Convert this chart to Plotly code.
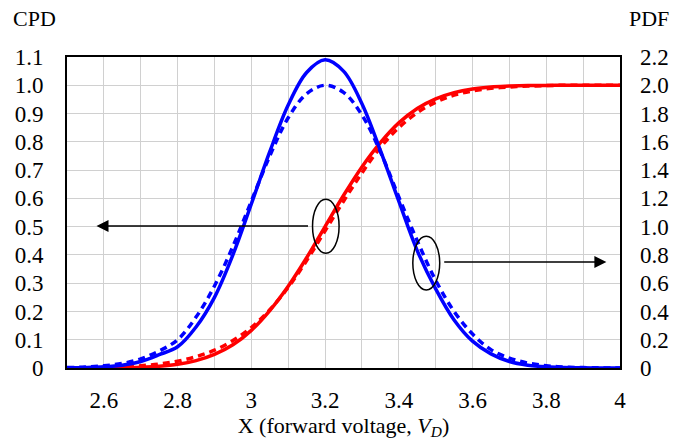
import plotly.graph_objects as go

x_vals = [2.5, 2.55, 2.6, 2.65, 2.7, 2.75, 2.8, 2.85, 2.9, 2.95, 3.0, 3.05, 3.1, 3.15, 3.2,
          3.25, 3.3, 3.35, 3.4, 3.45, 3.5, 3.55, 3.6, 3.65, 3.7, 3.75, 3.8, 3.85, 3.9, 3.95, 4.0]

pdf_solid = [0.001, 0.003, 0.008, 0.02, 0.046, 0.094, 0.15, 0.29, 0.5, 0.8, 1.16, 1.53, 1.86, 2.09, 2.18,
             2.10, 1.87, 1.54, 1.18, 0.83, 0.56, 0.34, 0.19, 0.10, 0.046, 0.02, 0.008, 0.003, 0.001, 0.0, 0.0]
pdf_dashed = [0.003, 0.007, 0.016, 0.032, 0.065, 0.12, 0.2, 0.36, 0.58, 0.86, 1.18, 1.50, 1.77, 1.94, 2.0,
              1.95, 1.79, 1.53, 1.21, 0.9, 0.62, 0.4, 0.24, 0.13, 0.07, 0.035, 0.016, 0.007, 0.003, 0.001, 0.0]
cdf_solid = [0.0001, 0.0001, 0.0004, 0.001, 0.0027, 0.0062, 0.013, 0.026, 0.048, 0.082, 0.133, 0.203, 0.289, 0.39, 0.5,
             0.61, 0.711, 0.797, 0.867, 0.918, 0.952, 0.974, 0.987, 0.994, 0.997, 0.999, 0.9996, 1.0, 1.0, 1.0, 1.0]
cdf_dashed = [0.0005, 0.001, 0.002, 0.004, 0.008, 0.014, 0.024, 0.04, 0.063, 0.097, 0.143, 0.206, 0.285, 0.38, 0.485,
              0.59, 0.69, 0.78, 0.85, 0.903, 0.94, 0.965, 0.98, 0.989, 0.994, 0.997, 0.999, 1.0, 1.0, 1.0, 1.0]

x_ticks = [2.6, 2.8, 3.0, 3.2, 3.4, 3.6, 3.8, 4.0]
x_ticktext = ["2.6", "2.8", "3", "3.2", "3.4", "3.6", "3.8", "4"]
x_minor = [2.5, 2.7, 2.9, 3.1, 3.3, 3.5, 3.7, 3.9]
cpd_ticks = [0, 0.1, 0.2, 0.3, 0.4, 0.5, 0.6, 0.7, 0.8, 0.9, 1.0, 1.1]
cpd_text = ["0", "0.1", "0.2", "0.3", "0.4", "0.5", "0.6", "0.7", "0.8", "0.9", "1.0", "1.1"]
pdf_ticks = [0, 0.2, 0.4, 0.6, 0.8, 1.0, 1.2, 1.4, 1.6, 1.8, 2.0, 2.2]
pdf_text = ["0", "0.2", "0.4", "0.6", "0.8", "1.0", "1.2", "1.4", "1.6", "1.8", "2.0", "2.2"]

FONT = "Liberation Serif"
BLUE = "#0000ff"
RED = "#ff0000"
LW = 3.5
TF = dict(family=FONT, size=23, color="black")

fig = go.Figure()
fig.add_trace(go.Scatter(x=x_vals, y=pdf_dashed, yaxis="y2", mode="lines",
                         line=dict(color=BLUE, width=LW, dash="7px,5px", shape="spline")))
fig.add_trace(go.Scatter(x=x_vals, y=pdf_solid, yaxis="y2", mode="lines",
                         line=dict(color=BLUE, width=LW, shape="spline")))
fig.add_trace(go.Scatter(x=x_vals, y=cdf_dashed, mode="lines",
                         line=dict(color=RED, width=LW, dash="7px,5px", shape="spline")))
fig.add_trace(go.Scatter(x=x_vals, y=cdf_solid, mode="lines",
                         line=dict(color=RED, width=LW, shape="spline")))

# ellipses
fig.add_shape(type="circle", xref="x", yref="y", x0=3.166, x1=3.238, y0=0.406, y1=0.597,
              line=dict(color="black", width=1.5))
fig.add_shape(type="circle", xref="x", yref="y", x0=3.438, x1=3.511, y0=0.276, y1=0.466,
              line=dict(color="black", width=1.5))

# arrows (line with filled head)
fig.add_annotation(x=2.58, y=0.502, ax=3.166, ay=0.502, xref="x", yref="y", axref="x", ayref="y",
                   showarrow=True, arrowhead=2, arrowsize=1.6, arrowwidth=1.5, arrowcolor="black", text=" ")
fig.add_annotation(x=3.963, y=0.375, ax=3.511, ay=0.375, xref="x", yref="y", axref="x", ayref="y",
                   showarrow=True, arrowhead=2, arrowsize=1.6, arrowwidth=1.5, arrowcolor="black", text=" ")

# axis headers
fig.add_annotation(text="CPD", xref="paper", yref="paper", x=-0.058, y=1.0, yshift=39,
                   showarrow=False, font=dict(family=FONT, size=22, color="black"), xanchor="center", yanchor="middle")
fig.add_annotation(text="PDF", xref="paper", yref="paper", x=1.0, xshift=29, y=1.0, yshift=39,
                   showarrow=False, font=dict(family=FONT, size=22, color="black"), xanchor="center", yanchor="middle")

fig.update_layout(
    width=681, height=447,
    margin=dict(l=67, r=53, t=57, b=79),
    paper_bgcolor="white", plot_bgcolor="white",
    showlegend=False,
    font=dict(family=FONT, size=22, color="black"),
    xaxis=dict(range=[2.5, 4.0], tickvals=x_ticks, ticktext=x_ticktext, tickfont=TF,
               showgrid=True, gridcolor="#d0d0d0", gridwidth=1,
               minor=dict(tickvals=x_minor, showgrid=True, gridcolor="#d0d0d0", gridwidth=1, ticks=""),
               showline=True, linecolor="black", linewidth=2, mirror=True,
               ticks="", ticklabelstandoff=10, zeroline=False,
               title=dict(text="X (forward voltage, <i>V<sub>D</sub></i>)", standoff=4,
                          font=dict(family=FONT, size=22, color="black"))),
    yaxis=dict(range=[0, 1.1], tickvals=cpd_ticks, ticktext=cpd_text, tickfont=TF,
               showgrid=True, gridcolor="#d0d0d0", gridwidth=1,
               showline=True, linecolor="black", linewidth=2, mirror=True,
               ticks="", ticklabelstandoff=17, zeroline=False),
    yaxis2=dict(range=[0, 2.2], tickvals=pdf_ticks, ticktext=pdf_text, overlaying="y", side="right",
                tickfont=TF, showgrid=False, showline=False, ticks="", ticklabelstandoff=19, zeroline=False),
)

fig.write_html("out.html")
